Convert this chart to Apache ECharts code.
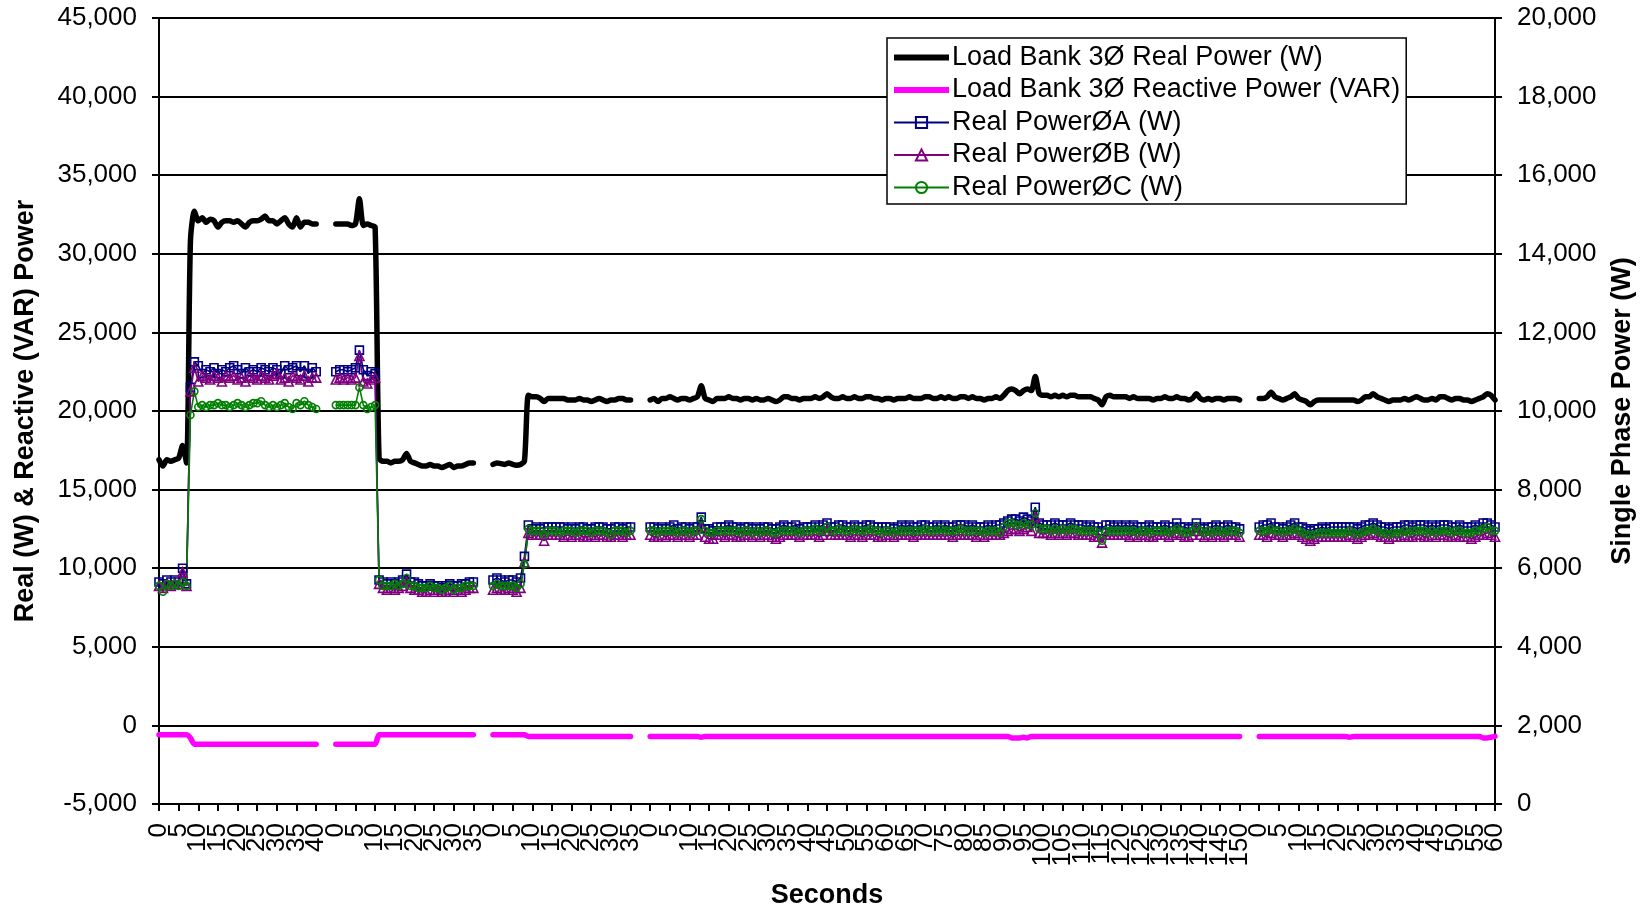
<!DOCTYPE html>
<html>
<head>
<meta charset="utf-8">
<script src="https://cdn.jsdelivr.net/npm/echarts@6/dist/echarts.min.js"></script>
<style>
html,body{margin:0;padding:0;background:#fff;}
#chart{width:1646px;height:914px;}
</style>
</head>
<body>
<div id="chart"></div>
<script>
// Test segments: number of one-second rows in each run (labels restart at 0)
const segLengths = [45, 40, 40, 155, 61];

// Load Bank 3Ø Real Power (W) - left axis, one array per test run
const realPower = [
  [16900,16500,16900,16800,16900,17000,17800,16700,30800,32700,
   32100,32300,32000,32200,32100,31700,32000,32100,32100,32000,
   32100,31900,31700,32000,32100,32100,32200,32400,32100,32100,
   31900,32100,32300,31900,31700,32300,31700,32000,32000,31900,
   31900],
  [31900,31900,31900,31900,31800,31900,33500,31800,31900,31800,
   31700,17000,16800,16800,16700,16800,16800,16900,17300,16800,
   16700,16600,16500,16500,16600,16500,16500,16400,16500,16600,
   16400,16500,16500,16600,16700,16700],
  [16600,16700,16650,16600,16700,16600,16550,16600,16800,21000,
   20900,20900,20800,20600,20800,20800,20800,20800,20800,20700,
   20700,20700,20800,20700,20700,20600,20700,20800,20700,20600,
   20700,20700,20800,20800,20700,20700],
  [20700,20800,20600,20800,20800,20900,20800,20700,20800,20800,
   20700,20800,20900,21600,20800,20700,20600,20800,20800,20800,
   20900,20800,20800,20700,20800,20800,20700,20800,20700,20700,
   20800,20700,20600,20700,20900,20900,20800,20800,20700,20800,
   20800,20800,20900,20800,20900,21100,20900,20800,20800,20900,
   20800,20800,20900,20800,20800,20900,20900,20800,20800,20700,
   20800,20800,20700,20800,20800,20800,20900,20800,20800,20800,
   20900,20900,20800,20800,20900,20800,20900,20800,20800,20900,
   20900,20800,20900,20800,20800,20700,20800,20800,20900,20800,
   21000,21300,21400,21300,21100,21300,21400,21300,22200,21100,
   21000,21000,20900,21000,20900,21000,20900,21000,21000,20900,
   20900,20900,20900,20800,20700,20400,20900,21000,20900,20900,
   20900,20900,20800,20900,20800,20800,20800,20800,20700,20800,
   20800,20900,20800,20800,20900,20800,20800,20700,20800,21100,
   20800,20700,20800,20700,20800,20800,20700,20800,20800,20800,
   20700],
  [20800,20800,20900,21200,20900,20800,20700,20800,20900,21100,
   20800,20700,20600,20400,20600,20700,20700,20700,20700,20700,
   20700,20700,20700,20700,20700,20600,20700,20900,20900,21100,
   20900,20800,20700,20600,20700,20700,20700,20800,20700,20800,
   20900,20800,20700,20700,20800,20700,20900,20900,20800,20700,
   20800,20800,20700,20700,20600,20700,20800,20900,21100,21000,
   20700]
];

// Load Bank 3Ø Reactive Power (VAR) - left axis
const reactivePower = [
  [-600,-600,-600,-600,-600,-600,-600,-600,-800,-1200,
   -1200,-1200,-1200,-1200,-1200,-1200,-1200,-1200,-1200,-1200,
   -1200,-1200,-1200,-1200,-1200,-1200,-1200,-1200,-1200,-1200,
   -1200,-1200,-1200,-1200,-1200,-1200,-1200,-1200,-1200,-1200,
   -1200],
  [-1200,-1200,-1200,-1200,-1200,-1200,-1200,-1200,-1200,-1200,
   -1200,-600,-600,-600,-600,-600,-600,-600,-600,-600,
   -600,-600,-600,-600,-600,-600,-600,-600,-600,-600,
   -600,-600,-600,-600,-600,-600],
  [-600,-600,-600,-600,-600,-600,-600,-600,-600,-700,
   -700,-700,-700,-700,-700,-700,-700,-700,-700,-700,
   -700,-700,-700,-700,-700,-700,-700,-700,-700,-700,
   -700,-700,-700,-700,-700,-700],
  [-700,-700,-700,-700,-700,-700,-700,-700,-700,-700,
   -700,-700,-700,-750,-700,-700,-700,-700,-700,-700,
   -700,-700,-700,-700,-700,-700,-700,-700,-700,-700,
   -700,-700,-700,-700,-700,-700,-700,-700,-700,-700,
   -700,-700,-700,-700,-700,-700,-700,-700,-700,-700,
   -700,-700,-700,-700,-700,-700,-700,-700,-700,-700,
   -700,-700,-700,-700,-700,-700,-700,-700,-700,-700,
   -700,-700,-700,-700,-700,-700,-700,-700,-700,-700,
   -700,-700,-700,-700,-700,-700,-700,-700,-700,-700,
   -700,-700,-800,-800,-800,-750,-800,-700,-700,-700,
   -700,-700,-700,-700,-700,-700,-700,-700,-700,-700,
   -700,-700,-700,-700,-700,-700,-700,-700,-700,-700,
   -700,-700,-700,-700,-700,-700,-700,-700,-700,-700,
   -700,-700,-700,-700,-700,-700,-700,-700,-700,-700,
   -700,-700,-700,-700,-700,-700,-700,-700,-700,-700,
   -700],
  [-700,-700,-700,-700,-700,-700,-700,-700,-700,-700,
   -700,-700,-700,-700,-700,-700,-700,-700,-700,-700,
   -700,-700,-700,-750,-700,-700,-700,-700,-700,-700,
   -700,-700,-700,-700,-700,-700,-700,-700,-700,-700,
   -700,-700,-700,-700,-700,-700,-700,-700,-700,-700,
   -700,-700,-700,-700,-700,-700,-700,-800,-800,-750,
   -700]
];

// Real Power ØA (W) - right axis
const phaseA = [
  [5650,5600,5700,5650,5700,5650,6000,5600,10600,11250,
   11150,10950,11050,11000,11100,10950,11050,11000,11100,11150,
   11050,10950,11100,11000,11050,11000,11100,11050,11000,11100,
   11050,10950,11150,11050,11100,11150,11000,11150,10950,11100,
   11000],
  [11000,11050,11050,11000,11050,11100,11550,11050,10900,11000,
   10950,5700,5650,5600,5650,5600,5650,5700,5850,5650,
   5650,5600,5550,5550,5600,5550,5550,5500,5550,5600,
   5550,5550,5600,5600,5650,5650],
  [5700,5750,5700,5650,5700,5700,5650,5750,6300,7100,
   7000,7050,7000,7050,7050,7050,7050,7050,7050,7000,
   7050,7000,7050,7050,7000,7000,7050,7050,7050,7000,
   7000,7050,7050,7000,7050,7050],
  [7050,7050,7000,7050,7000,7050,7100,7000,7050,7050,
   7000,7050,7050,7300,7000,7000,6950,7050,7050,7050,
   7100,7050,7050,7000,7050,7050,7000,7050,7000,7050,
   7050,7000,7000,7050,7100,7050,7050,7100,7000,7050,
   7050,7050,7100,7050,7100,7150,7050,7050,7100,7100,
   7050,7050,7100,7050,7050,7100,7100,7050,7050,7050,
   7050,7050,7000,7050,7100,7050,7100,7050,7050,7100,
   7100,7050,7050,7100,7050,7100,7050,7050,7100,7100,
   7100,7050,7100,7050,7050,7050,7100,7050,7100,7100,
   7150,7200,7250,7250,7200,7300,7250,7200,7550,7150,
   7100,7100,7100,7150,7100,7100,7100,7150,7100,7100,
   7100,7050,7100,7050,7050,6950,7100,7100,7050,7100,
   7050,7100,7050,7100,7050,7050,7050,7100,7050,7050,
   7050,7100,7050,7050,7150,7050,7050,7000,7050,7150,
   7050,7000,7050,7050,7100,7050,7050,7100,7050,7050,
   7000],
  [7050,7100,7100,7150,7050,7050,7000,7050,7100,7150,
   7050,7050,7000,6950,7000,7000,7050,7000,7050,7050,
   7050,7050,7050,7050,7050,7000,7050,7100,7100,7150,
   7100,7050,7050,7000,7050,7050,7050,7100,7100,7050,
   7100,7100,7100,7050,7100,7050,7100,7100,7100,7050,
   7050,7100,7050,7050,7050,7100,7050,7150,7150,7100,
   7050]
];

// Real Power ØB (W) - right axis
const phaseB = [
  [5550,5500,5600,5550,5600,5600,5900,5550,10500,11100,
   10750,10900,10850,10800,10900,10850,10750,10900,10850,10900,
   10800,10850,10750,10900,10850,10800,10900,10850,10800,10900,
   10950,10800,10850,10750,10900,10850,10800,10900,10750,10850,
   10850],
  [10800,10850,10800,10850,10800,10850,11400,10750,10700,10800,
   10850,5600,5500,5450,5500,5450,5500,5550,5650,5500,
   5450,5450,5400,5400,5450,5400,5450,5400,5400,5450,
   5400,5450,5400,5450,5500,5500],
  [5450,5500,5450,5450,5500,5450,5400,5500,6150,6900,
   6850,6850,6850,6700,6850,6850,6850,6850,6800,6850,
   6800,6850,6850,6800,6800,6850,6800,6850,6850,6800,
   6800,6850,6850,6800,6850,6850],
  [6850,6800,6800,6850,6800,6850,6850,6800,6850,6850,
   6800,6850,6850,7050,6800,6750,6750,6850,6850,6800,
   6850,6850,6800,6800,6850,6850,6800,6850,6800,6850,
   6850,6800,6750,6800,6850,6850,6850,6850,6800,6850,
   6850,6850,6850,6800,6850,6950,6850,6850,6850,6850,
   6850,6800,6850,6850,6800,6850,6850,6850,6800,6800,
   6850,6850,6800,6850,6850,6850,6850,6800,6850,6850,
   6850,6850,6850,6850,6850,6850,6850,6800,6850,6850,
   6850,6850,6850,6800,6850,6800,6850,6850,6850,6850,
   6900,6950,7000,7000,6950,7000,7050,6950,7300,6900,
   6900,6900,6850,6900,6850,6900,6850,6900,6900,6850,
   6850,6850,6850,6800,6800,6650,6850,6850,6850,6850,
   6850,6850,6800,6850,6800,6850,6850,6800,6800,6850,
   6850,6850,6800,6850,6900,6850,6800,6800,6850,6950,
   6850,6800,6850,6800,6850,6850,6800,6850,6850,6850,
   6800],
  [6850,6850,6800,6900,6850,6850,6800,6850,6850,6900,
   6850,6800,6750,6700,6750,6800,6800,6800,6800,6800,
   6800,6800,6800,6850,6800,6750,6800,6850,6850,6900,
   6850,6800,6800,6750,6800,6800,6800,6850,6800,6800,
   6850,6850,6800,6800,6850,6800,6850,6850,6800,6800,
   6850,6800,6800,6800,6750,6800,6850,6850,6900,6850,
   6800]
];

// Real Power ØC (W) - right axis
const phaseC = [
  [5550,5400,5600,5550,5600,5550,5650,5550,9900,10500,
   10100,10150,10100,10150,10150,10200,10150,10150,10100,10150,
   10200,10150,10100,10150,10200,10200,10250,10150,10100,10150,
   10100,10150,10200,10100,10050,10200,10150,10250,10150,10100,
   10050],
  [10150,10150,10150,10150,10150,10150,10600,10150,10050,10100,
   10150,5700,5550,5550,5550,5600,5550,5600,5750,5550,
   5550,5500,5500,5500,5550,5500,5500,5450,5500,5550,
   5450,5500,5500,5550,5550,5550],
  [5550,5600,5550,5550,5550,5550,5500,5600,6100,7000,
   6950,6950,6950,6850,6950,6950,6950,6900,6950,6950,
   6950,6900,6950,6950,6950,6900,6950,6950,6950,6900,
   6850,6950,6950,6950,6900,6950],
  [6950,6950,6900,6950,6950,6950,6950,6900,6950,6950,
   6900,6950,6950,7250,6950,6900,6900,6950,6950,6950,
   6950,6950,6950,6900,6950,6950,6900,6950,6900,6950,
   6950,6900,6900,6950,6950,6950,6950,6950,6900,6950,
   6950,6950,7000,6950,6950,7050,6950,6950,7000,6950,
   6950,6950,7000,6950,6950,6950,7000,6950,6950,6900,
   6950,6950,6900,6950,6950,6950,6950,6950,6950,6950,
   7000,6950,6950,6950,7000,6950,6950,6950,6950,7000,
   6950,6950,6950,6950,6950,6900,6950,6950,6950,6900,
   7050,7150,7150,7100,7100,7150,7100,7100,7400,7000,
   7000,7000,6950,7000,6950,7000,6950,7000,7000,6950,
   6950,6950,6950,6950,6900,6700,6950,6950,6950,6950,
   6950,6950,6950,6950,6900,6950,6950,6900,6950,6950,
   6950,6950,6900,6950,7000,6950,6900,6900,6950,7050,
   6950,6900,6950,6900,6950,6950,6900,6950,6950,6950,
   6900],
  [6950,6950,6950,7000,6950,6950,6900,6950,6950,7000,
   6950,6900,6850,6850,6850,6900,6900,6900,6900,6900,
   6900,6900,6900,6950,6900,6850,6900,6950,6950,7000,
   6950,6900,6900,6850,6900,6900,6900,6950,6900,6950,
   6950,6950,6950,6900,6950,6900,6950,6950,6950,6900,
   6950,6950,6900,6900,6900,6950,6950,7000,7050,6950,
   6950]
];

// ---- build category labels and padded series (blank rows at end of each run) ----
const categories = [];
segLengths.forEach(len => { for (let k = 0; k < len; k++) categories.push(String(k)); });
function build(segs) {
  const out = [];
  segs.forEach((s, i) => {
    for (let k = 0; k < segLengths[i]; k++) out.push(k < s.length ? s[k] : null);
  });
  return out;
}

const FONT = '"Liberation Sans", Arial, Helvetica, sans-serif';
const fmt = v => v.toLocaleString('en-US');
const thickLineIcon = 'path://M0,0H55V6H0Z';
const LABEL_STEP = 5;

const chart = echarts.init(document.getElementById('chart'), null, {renderer: 'canvas'});
const option = {
  animation: false,
  backgroundColor: '#ffffff',
  textStyle: {fontFamily: FONT, color: '#000'},
  grid: {left: 159, right: 151, top: 18, bottom: 106, containLabel: false},
  legend: {
    orient: 'vertical',
    left: 887, top: 38,
    padding: [6, 6, 3, 6],
    itemGap: 5.5,
    itemWidth: 55,
    itemHeight: 14,
    backgroundColor: '#fff',
    borderColor: '#000',
    borderWidth: 1.5,
    textStyle: {fontFamily: FONT, fontSize: 27, color: '#000', padding: [0, 0, 0, -2]},
    data: [
      {name: 'Load Bank 3Ø Real Power (W)', icon: thickLineIcon},
      {name: 'Load Bank 3Ø Reactive Power (VAR)', icon: thickLineIcon},
      'Real PowerØA (W)', 'Real PowerØB (W)', 'Real PowerØC (W)'
    ]
  },
  xAxis: {
    type: 'category',
    data: categories,
    boundaryGap: false,
    name: 'Seconds',
    nameLocation: 'middle',
    nameGap: 78,
    nameTextStyle: {fontFamily: FONT, fontSize: 27, fontWeight: 'bold', color: '#000'},
    axisLine: {onZero: false, lineStyle: {color: '#000', width: 2}},
    axisTick: {show: true, interval: LABEL_STEP - 1, length: 7, lineStyle: {color: '#000', width: 2}},
    axisLabel: {
      interval: 0, rotate: 90, fontSize: 26, color: '#000', margin: 19, fontFamily: FONT,
      hideOverlap: false,
      formatter: (value, index) => (index % LABEL_STEP === 0 ? value : '')
    },
    splitLine: {show: false}
  },
  yAxis: [
    {
      type: 'value', position: 'left', min: -5000, max: 45000, interval: 5000,
      name: 'Real (W) & Reactive (VAR) Power',
      nameLocation: 'middle', nameRotate: 90, nameGap: 120,
      nameTextStyle: {fontFamily: FONT, fontSize: 27, fontWeight: 'bold', color: '#000'},
      axisLine: {show: true, lineStyle: {color: '#000', width: 2}},
      axisTick: {show: true, length: 7, lineStyle: {color: '#000', width: 2}},
      axisLabel: {formatter: fmt, fontSize: 26, color: '#000', margin: 22, fontFamily: FONT},
      splitLine: {show: true, lineStyle: {color: '#000', width: 2}}
    },
    {
      type: 'value', position: 'right', min: 0, max: 20000, interval: 2000,
      name: 'Single Phase Power (W)',
      nameLocation: 'middle', nameRotate: 90, nameGap: 114,
      nameTextStyle: {fontFamily: FONT, fontSize: 27, fontWeight: 'bold', color: '#000'},
      axisLine: {show: true, lineStyle: {color: '#000', width: 2}},
      axisTick: {show: true, length: 7, lineStyle: {color: '#000', width: 2}},
      axisLabel: {formatter: fmt, fontSize: 26, color: '#000', margin: 22, fontFamily: FONT},
      splitLine: {show: false}
    },
    {
      type: 'value', position: 'right', min: 0, max: 20000, interval: 2000,
      axisLine: {show: false},
      axisTick: {show: true, inside: true, length: 7, lineStyle: {color: '#000', width: 2}},
      axisLabel: {show: false},
      splitLine: {show: false}
    }
  ],
  series: [
    {
      name: 'Load Bank 3Ø Real Power (W)', type: 'line', yAxisIndex: 0,
      data: build(realPower), symbol: 'none', smooth: 0.25, connectNulls: false,
      itemStyle: {color: '#000000'},
      lineStyle: {color: '#000000', width: 5.5, cap: 'round', join: 'round'}
    },
    {
      name: 'Load Bank 3Ø Reactive Power (VAR)', type: 'line', yAxisIndex: 0,
      data: build(reactivePower), symbol: 'none', smooth: 0.25, connectNulls: false,
      itemStyle: {color: '#FF00FF'},
      lineStyle: {color: '#FF00FF', width: 5.5, cap: 'round', join: 'round'}
    },
    {
      name: 'Real PowerØA (W)', type: 'line', yAxisIndex: 1,
      data: build(phaseA), symbol: 'rect', symbolSize: 8, showAllSymbol: true, connectNulls: false,
      itemStyle: {color: 'rgba(255,255,255,0)', borderColor: '#000080', borderWidth: 1.6},
      lineStyle: {color: '#000080', width: 1.6}
    },
    {
      name: 'Real PowerØB (W)', type: 'line', yAxisIndex: 1,
      data: build(phaseB), symbol: 'triangle', symbolSize: 9, showAllSymbol: true, connectNulls: false,
      itemStyle: {color: 'rgba(255,255,255,0)', borderColor: '#800080', borderWidth: 1.6},
      lineStyle: {color: '#800080', width: 1.6}
    },
    {
      name: 'Real PowerØC (W)', type: 'line', yAxisIndex: 1,
      data: build(phaseC), symbol: 'circle', symbolSize: 7, showAllSymbol: true, connectNulls: false,
      itemStyle: {color: 'rgba(255,255,255,0)', borderColor: '#008000', borderWidth: 1.6},
      lineStyle: {color: '#008000', width: 1.6}
    }
  ]
};
chart.setOption(option);
</script>
</body>
</html>
